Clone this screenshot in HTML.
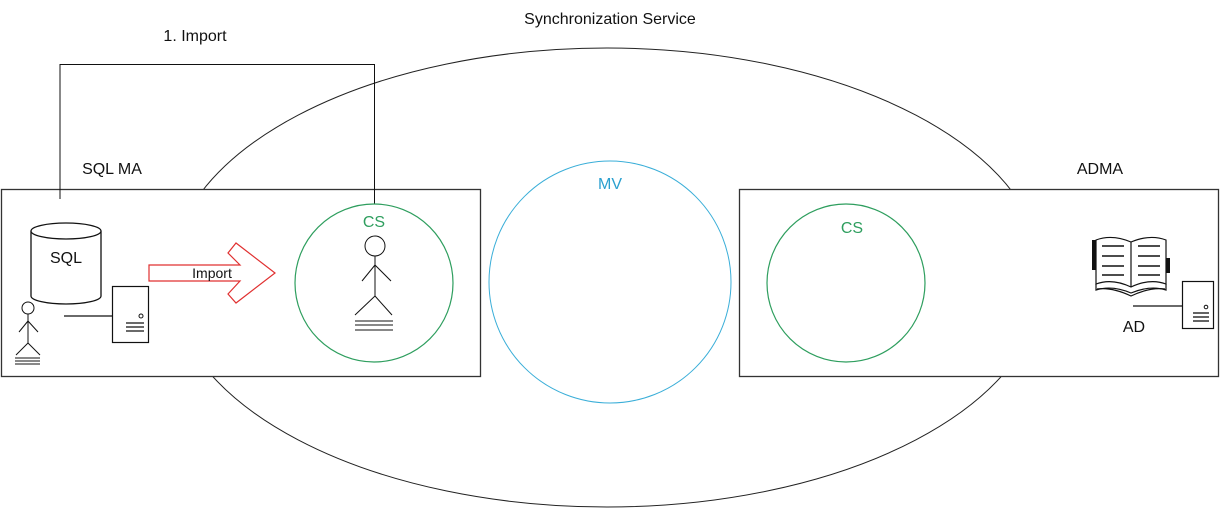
<!DOCTYPE html>
<html><head><meta charset="utf-8"><style>
html,body{margin:0;padding:0;background:#fff;width:1220px;height:509px;overflow:hidden}
svg text{font-family:"Liberation Sans",sans-serif}
</style></head><body>
<svg width="1220" height="509" viewBox="0 0 1220 509" xmlns="http://www.w3.org/2000/svg">
<rect width="1220" height="509" fill="#fff"/>
<ellipse cx="607" cy="277.5" rx="437" ry="229.5" fill="none" stroke="#222" stroke-width="1"/>
<text x="610" y="24" font-size="16" text-anchor="middle" fill="#111">Synchronization Service</text>
<!-- left box -->
<rect x="1.5" y="189.5" width="479" height="187" fill="#fff" stroke="#333" stroke-width="1.3"/>
<!-- right box -->
<rect x="739.5" y="189.5" width="479" height="187" fill="#fff" stroke="#333" stroke-width="1.3"/>
<!-- import connector -->
<polyline points="60,199 60,64.5 374.5,64.5 374.5,204" fill="none" stroke="#111" stroke-width="1"/>
<text x="195" y="41" font-size="16" text-anchor="middle" fill="#111">1. Import</text>
<text x="112" y="174" font-size="16" text-anchor="middle" fill="#111">SQL MA</text>
<text x="1100" y="174" font-size="16" text-anchor="middle" fill="#111">ADMA</text>
<!-- circles -->
<circle cx="610" cy="282" r="121" fill="none" stroke="#3aaed8" stroke-width="1"/>
<text x="610" y="189" font-size="16" text-anchor="middle" fill="#2aa0cf">MV</text>
<circle cx="374" cy="283" r="79" fill="none" stroke="#2e9e5e" stroke-width="1.2"/>
<text x="374" y="227" font-size="16" text-anchor="middle" fill="#2e9e5e">CS</text>
<circle cx="846" cy="283" r="79" fill="none" stroke="#2e9e5e" stroke-width="1.2"/>
<text x="852" y="233" font-size="16" text-anchor="middle" fill="#2e9e5e">CS</text>
<!-- cylinder -->
<path d="M31,231 L31,296 A35,8 0 0 0 101,296 L101,231" fill="#fff" stroke="#111" stroke-width="1.3"/>
<ellipse cx="66" cy="231" rx="35" ry="8" fill="#fff" stroke="#111" stroke-width="1.3"/>
<text x="66" y="263" font-size="16" text-anchor="middle" fill="#111">SQL</text>
<!-- small person -->
<g stroke="#111" stroke-width="1" fill="none">
<circle cx="28" cy="308" r="6" fill="#fff"/>
<line x1="28" y1="314" x2="28" y2="343"/>
<line x1="28" y1="321" x2="19" y2="332"/><line x1="28" y1="321" x2="38" y2="332"/>
<line x1="28" y1="343" x2="16" y2="355"/><line x1="28" y1="343" x2="40" y2="355"/>
<line x1="15" y1="358" x2="40" y2="358"/><line x1="15" y1="361" x2="40" y2="361"/><line x1="15" y1="364" x2="40" y2="364"/>
</g>
<!-- left server -->
<line x1="64" y1="316" x2="112" y2="316" stroke="#111" stroke-width="1.2"/>
<rect x="112.5" y="286.5" width="36" height="56" fill="#fff" stroke="#111" stroke-width="1.2"/>
<circle cx="141" cy="316" r="2" fill="none" stroke="#111"/>
<g stroke="#111" stroke-width="1.3"><line x1="126" y1="323" x2="144" y2="323"/><line x1="126" y1="327" x2="144" y2="327"/><line x1="126" y1="331" x2="144" y2="331"/></g>
<!-- import arrow -->
<polygon points="149,265 240,265 228,253 236,243 275,273 236,303 228,294 240,281 149,281" fill="#fff" stroke="#e03030" stroke-width="1.2"/>
<text x="212" y="278" font-size="14" text-anchor="middle" fill="#111">Import</text>
<!-- big person -->
<g stroke="#111" stroke-width="1" fill="none">
<circle cx="375" cy="246" r="10" fill="#fff"/>
<line x1="375" y1="256" x2="375" y2="296"/>
<line x1="375" y1="265" x2="362" y2="281"/><line x1="375" y1="265" x2="391" y2="281"/>
<line x1="375" y1="296" x2="355" y2="315"/><line x1="375" y1="296" x2="392" y2="315"/>
<line x1="355" y1="321" x2="393" y2="321"/><line x1="355" y1="325" x2="393" y2="325"/><line x1="355" y1="330" x2="393" y2="330"/>
</g>
<!-- book -->
<g stroke="#111" stroke-width="1.2" fill="#fff">
<path d="M1131,242 Q1112,234 1096,240 L1096,284 Q1112,278 1131,287 Q1150,278 1166,284 L1166,240 Q1150,234 1131,242 Z"/>
<line x1="1131" y1="242" x2="1131" y2="287"/>
<path d="M1096,284 L1096,290 Q1112,285 1131,293 Q1150,285 1166,290 L1166,284" fill="none"/>
<path d="M1097,289 Q1112,287 1131,296 Q1150,287 1165,289" fill="none"/>
</g>
<rect x="1092" y="240" width="4" height="30" fill="#111"/>
<rect x="1166" y="258" width="4" height="15" fill="#111"/>
<g stroke="#111" stroke-width="1.5">
<line x1="1102" y1="246" x2="1124" y2="246"/><line x1="1102" y1="256" x2="1124" y2="256"/><line x1="1102" y1="266" x2="1124" y2="266"/><line x1="1102" y1="275" x2="1124" y2="275"/>
<line x1="1138" y1="246" x2="1160" y2="246"/><line x1="1138" y1="256" x2="1160" y2="256"/><line x1="1138" y1="266" x2="1160" y2="266"/><line x1="1138" y1="275" x2="1160" y2="275"/>
</g>
<!-- right server -->
<line x1="1133" y1="306" x2="1182" y2="306" stroke="#111" stroke-width="1.2"/>
<rect x="1182.5" y="281.5" width="31" height="47" fill="#fff" stroke="#111" stroke-width="1.2"/>
<circle cx="1206" cy="307" r="1.8" fill="none" stroke="#111"/>
<g stroke="#111" stroke-width="1.3"><line x1="1193" y1="313" x2="1209" y2="313"/><line x1="1193" y1="317" x2="1209" y2="317"/><line x1="1193" y1="321" x2="1209" y2="321"/></g>
<text x="1134" y="332" font-size="16" text-anchor="middle" fill="#111">AD</text>
</svg>
</body></html>
